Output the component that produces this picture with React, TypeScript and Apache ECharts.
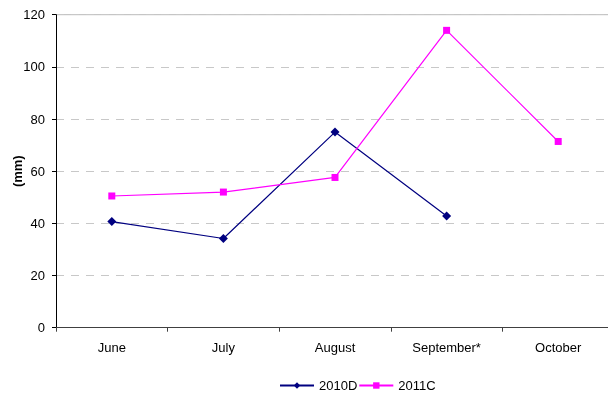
import React, { useEffect, useRef } from "react";
import * as echarts from "echarts";

const months = ["June", "July", "August", "September*", "October"];
const series2010D = [40.7, 34.2, 75.0, 42.8, null];
const series2011C = [50.5, 52.0, 57.6, 114.0, 71.4];
const yTicks = { min: 0, max: 120, interval: 20 };

export default function App() {
  const ref = useRef<HTMLDivElement>(null);

  useEffect(() => {
    if (!ref.current) return;
    const chart = echarts.init(ref.current, undefined, { renderer: "svg" });
    const font = "'Liberation Sans', Arial, sans-serif";
    chart.setOption({
      animation: false,
      textStyle: { fontFamily: font },
      grid: {
        left: 56,
        right: -6,
        top: 14.7,
        bottom: 70.3,
        containLabel: false,
        outerBoundsMode: "none",
      },
      legend: {
        top: 379,
        left: 279,
        padding: 0,
        itemWidth: 34,
        itemHeight: 8,
        itemGap: 1,
        textStyle: { fontSize: 13, color: "#000", fontFamily: font },
        data: ["2010D", "2011C"],
      },
      xAxis: {
        type: "category",
        data: months,
        boundaryGap: true,
        axisLine: { lineStyle: { color: "#404040", width: 1 } },
        axisTick: { show: true, length: 4, lineStyle: { color: "#404040" } },
        axisLabel: { color: "#000", fontSize: 13, margin: 13, fontFamily: font },
      },
      yAxis: {
        type: "value",
        min: yTicks.min,
        max: yTicks.max,
        interval: yTicks.interval,
        name: "(mm)",
        nameLocation: "middle",
        nameGap: 32,
        nameMoveOverlap: false,
        nameTextStyle: { fontWeight: "bold", fontSize: 13, color: "#000", fontFamily: font },
        axisLine: { show: true, lineStyle: { color: "#000", width: 1 } },
        axisTick: { show: true, length: 4, lineStyle: { color: "#000" } },
        axisLabel: { color: "#000", fontSize: 13, margin: 11, fontFamily: font },
        splitLine: {
          show: true,
          lineStyle: { color: "#c8c8c8", type: [8, 7], width: 1 },
        },
      },
      series: [
        {
          name: "2010D",
          type: "line",
          data: series2010D,
          symbol: "diamond",
          symbolSize: 9,
          color: "#000080",
          lineStyle: { color: "#000080", width: 1.2 },
          itemStyle: { color: "#000080" },
        },
        {
          name: "2011C",
          type: "line",
          data: series2011C,
          symbol: "rect",
          symbolSize: 7,
          color: "#ff00ff",
          lineStyle: { color: "#ff00ff", width: 1.2 },
          itemStyle: { color: "#ff00ff" },
        },
      ],
      graphic: [
        {
          type: "line",
          shape: { x1: 56, y1: 14.7, x2: 608, y2: 14.7 },
          style: { stroke: "#b8b8b8", lineWidth: 1 },
          z: 0,
        },
      ],
    });
    return () => chart.dispose();
  }, []);

  return (
    <div
      ref={ref}
      style={{ position: "fixed", left: 0, top: 0, width: 608, height: 398 }}
    />
  );
}
